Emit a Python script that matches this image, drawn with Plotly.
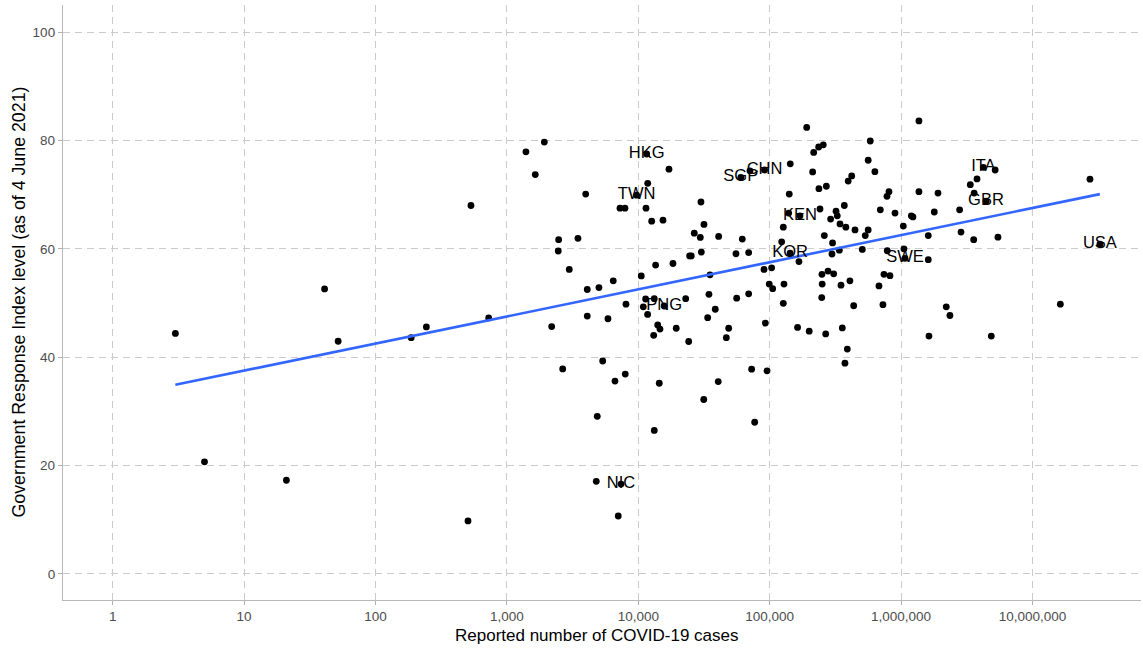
import numpy as np
import plotly.graph_objects as go

# Unlabelled countries: reported COVID-19 cases and Government Response Index
cases = [
    3, 5, 21, 41, 52, 187, 244, 506, 533, 727,
    2478, 2460, 3475, 3980, 2985, 4090, 5020, 2193, 4090, 5880,
    2660, 5360, 4875, 4790, 7040, 6650, 14450, 40600, 31500, 13240,
    76900, 1397, 1928, 1645, 17130, 11800, 7260, 7920, 11450, 12650,
    15420, 30000, 31620, 26680, 29650, 40900, 61900, 55400, 69200, 24600,
    25300, 30200, 18370, 13550, 35150, 10540, 6450, 34500, 56100, 69200,
    22950, 13240, 11380, 8060, 10920, 11780, 14060, 14630, 13100, 19450,
    33750, 38550, 24200, 48750, 46800, 92700, 99300, 105400, 7960, 72900,
    95500, 191300, 1368000, 216300, 236000, 255900, 583000, 562000, 632000, 143500,
    70800, 212400, 396000, 421000, 237000, 270000, 141000, 809000, 781000, 1368000,
    1910000, 3365000, 3785000, 5200000, 3600000, 2790000, 1790000, 1197000, 1231000, 899000,
    1040000, 695000, 1611000, 2858000, 3570000, 5460000, 370000, 241500, 320000, 327000,
    291000, 343000, 380000, 446000, 562000, 534000, 139600, 127000, 260500, 301000,
    298000, 339000, 507000, 785000, 1052000, 1611000, 123400, 167000, 90600, 103500,
    250000, 278000, 307000, 741000, 823000, 128500, 251000, 349000, 408000, 679000,
    249000, 127000, 436000, 728000, 2208000, 2355000, 163000, 200000, 267000, 357000,
    390000, 374000, 1630000, 4860000, 27400000, 16300000,
]
index_level = [
    44.4, 20.7, 17.3, 52.6, 42.95, 43.6, 45.6, 9.8, 68.0, 47.25,
    61.7, 59.6, 61.95, 70.1, 56.2, 52.5, 52.85, 45.65, 47.6, 47.1,
    37.85, 39.3, 29.1, 17.1, 10.7, 35.6, 35.2, 35.5, 32.2, 26.5,
    28.0, 77.9, 79.7, 73.7, 74.7, 72.1, 67.5, 67.5, 67.5, 65.1,
    65.3, 68.65, 64.5, 62.9, 62.1, 62.3, 61.8, 59.1, 59.3, 58.7,
    58.7, 59.4, 57.3, 57.0, 55.2, 55.0, 54.1, 51.6, 50.9, 51.7,
    50.8, 50.8, 50.75, 49.8, 49.3, 47.9, 45.95, 45.2, 44.05, 45.35,
    47.3, 48.85, 42.9, 45.35, 43.6, 46.3, 53.5, 52.65, 36.9, 37.8,
    37.5, 82.4, 83.6, 77.8, 78.8, 79.2, 79.9, 76.35, 74.25, 75.7,
    74.4, 74.2, 72.5, 73.45, 71.1, 71.55, 70.1, 70.55, 69.7, 70.55,
    70.3, 71.85, 72.9, 74.55, 70.3, 67.2, 66.8, 66.1, 65.9, 66.6,
    64.2, 67.2, 62.45, 63.1, 61.7, 62.15, 68.0, 67.35, 66.95, 66.1,
    65.5, 64.6, 64.0, 63.5, 63.5, 62.45, 66.6, 64.0, 62.45, 61.1,
    59.05, 59.75, 59.9, 59.65, 60.0, 58.0, 61.3, 57.65, 56.2, 56.5,
    55.3, 55.9, 55.4, 55.3, 55.05, 53.5, 53.5, 53.3, 54.1, 53.15,
    51.0, 49.95, 49.5, 49.7, 49.3, 47.7, 45.5, 44.8, 44.3, 45.4,
    41.5, 38.9, 43.9, 43.9, 72.85, 49.8,
]

# Labelled countries
label_codes = ["HKG", "TWN", "SGP", "CHN", "KEN", "KOR", "PNG", "NIC", "SWE", "ITA", "GBR", "USA"]
label_cases = [11590, 9720, 60300, 91400, 170000, 143000, 15740, 7390, 1070000, 4230000, 4430000, 32600000]
label_index = [77.5, 69.9, 73.2, 74.55, 66.1, 59.2, 49.45, 16.6, 58.25, 75.05, 68.8, 60.85]

x_tick_vals = [1, 10, 100, 1000, 10000, 100000, 1000000, 10000000]
x_tick_text = ["1", "10", "100", "1,000", "10,000", "100,000", "1,000,000", "10,000,000"]
y_tick_vals = [0, 20, 40, 60, 80, 100]

x_title = "Reported number of COVID-19 cases"
y_title = "Government Response Index level (as of 4 June 2021)"

all_x = np.array(cases + label_cases, dtype=float)
all_y = np.array(index_level + label_index, dtype=float)
slope, intercept = np.polyfit(np.log10(all_x), all_y, 1)
fit_lx = np.linspace(np.log10(all_x.min()), np.log10(all_x.max()), 60)
fit_x = 10 ** fit_lx
fit_y = intercept + slope * fit_lx

FONT = "Liberation Sans, Arial, sans-serif"
GRID = "#cbcbcb"

fig = go.Figure()
fig.add_trace(go.Scatter(
    x=all_x, y=all_y, mode="markers",
    marker=dict(color="black", size=6.8, line=dict(width=0)),
    hoverinfo="x+y", showlegend=False,
))
fig.add_trace(go.Scatter(
    x=fit_x, y=fit_y, mode="lines",
    line=dict(color="#3366FF", width=2.6),
    hoverinfo="skip", showlegend=False,
))
fig.add_trace(go.Scatter(
    x=label_cases, y=label_index, mode="text", text=label_codes,
    textposition="middle center",
    textfont=dict(family=FONT, size=16.5, color="black"),
    hoverinfo="skip", showlegend=False,
))

axis_common = dict(
    tickfont=dict(size=13.5, color="#4d4d4d"),
    ticks="outside", ticklen=4, tickcolor="#b0b0b0", tickwidth=1.2,
    showgrid=True, gridcolor=GRID, gridwidth=1.3, griddash="7px,5px",
    showline=True, linecolor="#b8b8b8", linewidth=1.3,
    zeroline=False, automargin=False,
)

fig.update_layout(
    width=1143, height=649,
    margin=dict(l=63, r=2, t=5, b=49),
    paper_bgcolor="white", plot_bgcolor="white",
    font=dict(family=FONT),
    xaxis=dict(type="log", range=[-0.378, 7.826],
               tickvals=x_tick_vals, ticktext=x_tick_text, **axis_common),
    yaxis=dict(range=[-4.8, 105.0], tickvals=y_tick_vals, **axis_common),
    annotations=[
        dict(text=x_title, xref="paper", yref="paper", x=0.495, y=0,
             xanchor="center", yanchor="middle", yshift=-35, showarrow=False,
             font=dict(size=17, color="black")),
        dict(text=y_title, xref="paper", yref="paper", x=0, y=0.5,
             xanchor="center", yanchor="middle", xshift=-45, textangle=-90,
             showarrow=False, font=dict(size=17.8, color="black")),
    ],
)

fig.write_html("out.html",
               config={"displayModeBar": False},
               post_script="document.body.style.margin='0';document.body.style.overflow='hidden';")
